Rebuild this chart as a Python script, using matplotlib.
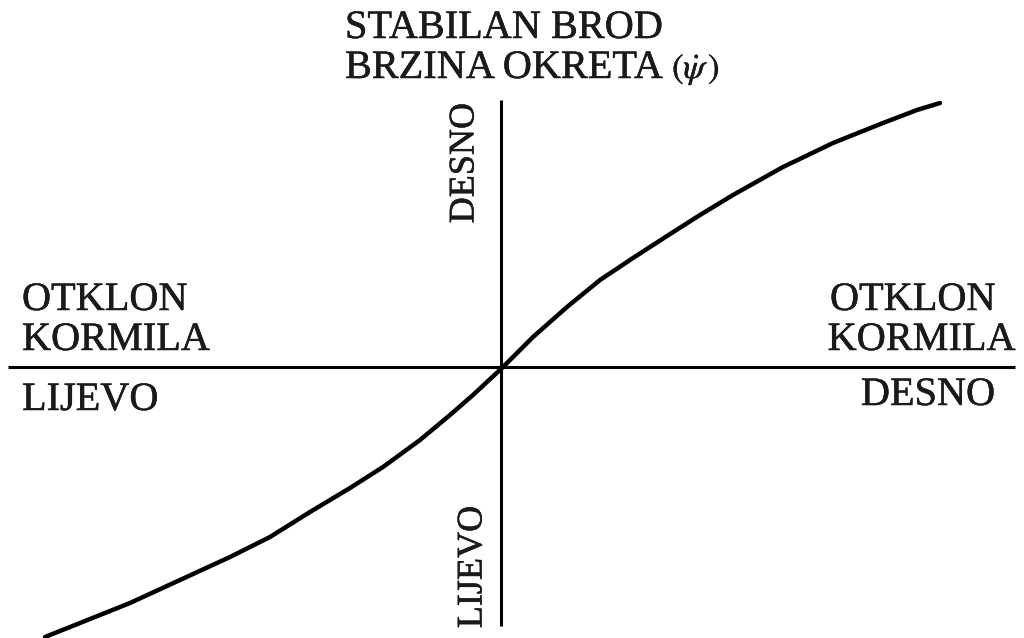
import matplotlib
matplotlib.use("Agg")
import matplotlib.pyplot as plt
import matplotlib.patheffects as pe

# Rudder deflection (x) vs. turning rate (y), arbitrary units, origin at axes crossing
rudder = [-457, -422, -372, -322, -272, -232, -192, -152, -119, -82, -52, -29, 0,
          31, 65, 98, 131, 165, 198, 231, 281, 331, 381, 415, 438]
turn_rate = [-269, -255, -235, -212, -189, -169, -144, -120, -99, -72, -47, -27, 0,
             31, 61, 88, 110, 132, 153, 173, 201, 225, 245, 258, 265]

title_lines = ["STABILAN BROD", "BRZINA OKRETA"]
left_labels = ["OTKLON", "KORMILA", "LIJEVO"]
right_labels = ["OTKLON", "KORMILA", "DESNO"]
vert_labels = ["DESNO", "LIJEVO"]

plt.rcParams['font.family'] = ['Liberation Serif', 'DejaVu Serif']
plt.rcParams['mathtext.fontset'] = 'stix'

fig = plt.figure(figsize=(10.24, 6.38), dpi=100)
ax = fig.add_axes([0, 0, 1, 1])
ax.set_xlim(-502, 522)
ax.set_ylim(-270, 368)
ax.axis('off')

# axes lines
ax.plot([-494, 513], [1, 1], color='black', lw=2.2, solid_capstyle='butt')
ax.plot([-1, -1], [268, -258], color='black', lw=2.2, solid_capstyle='butt')

# curve
ax.plot(rudder, turn_rate, color='black', lw=3.2, solid_capstyle='round', solid_joinstyle='round')

fs = 29
col = '#1a1a1a'
eff = [pe.withStroke(linewidth=0.35, foreground=col)]

def txt(x, y, s, **kw):
    kw.setdefault('fontsize', fs)
    ax.text(x, y, s, color=col, path_effects=eff, **kw)

# title
txt(-157, 368 - 38, title_lines[0], ha='left', va='baseline')
txt(-157, 368 - 78, title_lines[1], ha='left', va='baseline')
txt(170, 368 - 78, r'$(\dot{\psi}\,)$', fontsize=25, ha='left', va='baseline')

# left labels
for lab, base in zip(left_labels, [310, 350, 410]):
    txt(22 - 502, 368 - base, lab, ha='left', va='baseline')
# right labels
txt(995 - 502, 368 - 310, right_labels[0], ha='right', va='baseline')
txt(1015 - 502, 368 - 350, right_labels[1], ha='right', va='baseline')
txt(995 - 502, 368 - 405, right_labels[2], ha='right', va='baseline')

# vertical labels
txt(465 - 502, 368 - 163, vert_labels[0], fontsize=26, rotation=90, ha='center', va='center')
txt(473 - 502, 368 - 567, vert_labels[1], fontsize=26, rotation=90, ha='center', va='center')

fig.savefig('out.png', dpi=100)
